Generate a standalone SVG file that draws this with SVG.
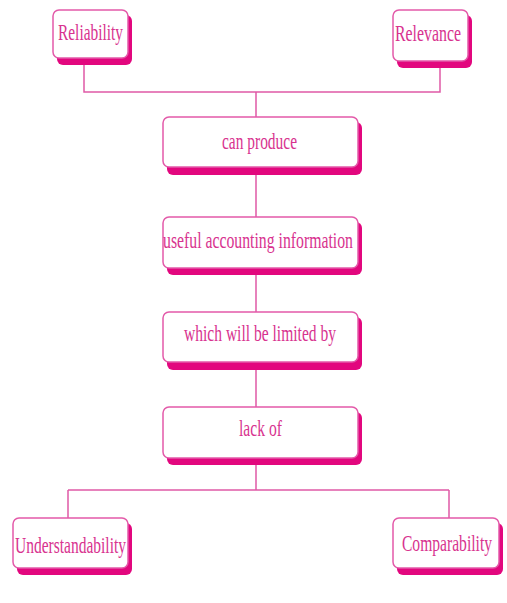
<svg xmlns="http://www.w3.org/2000/svg" width="507" height="603" viewBox="0 0 507 603">
<style>
.sh{fill:#e2077e}
.bx{fill:#ffffff;stroke:#e35aa9;stroke-width:1.5}
.t{font-family:"Liberation Serif","Times New Roman",serif;font-size:24px;fill:#d8338f;text-anchor:start}
.ln{stroke:#e05aa6;stroke-width:1.5;fill:none}
</style>
<rect width="507" height="603" fill="#ffffff"/>
<g id="connectors">
<path class="ln" d="M84 58V92H440V60M256 92V117M256 175V217M256 275V312M256 370V407M256 465V490M68 490H449M68 490V518M449 490V518"/>
</g>
<g id="reliability">
<rect class="sh" x="57" y="15" width="75" height="50" rx="6"/>
<rect class="bx" x="53" y="10" width="75" height="48" rx="6"/>
<text class="t" x="58" y="40" textLength="65" lengthAdjust="spacingAndGlyphs">Reliability</text>
</g>
<g id="relevance">
<rect class="sh" x="397" y="15" width="75" height="53" rx="6"/>
<rect class="bx" x="393" y="10" width="75" height="51" rx="6"/>
<text class="t" x="395" y="41" textLength="66" lengthAdjust="spacingAndGlyphs">Relevance</text>
</g>
<g id="can-produce">
<rect class="sh" x="167" y="122" width="195" height="53" rx="6"/>
<rect class="bx" x="163" y="117" width="195" height="50" rx="6"/>
<text class="t" x="222" y="149" textLength="75" lengthAdjust="spacingAndGlyphs">can produce</text>
</g>
<g id="useful-accounting-information">
<rect class="sh" x="167" y="222" width="195" height="53" rx="6"/>
<rect class="bx" x="163" y="217" width="195" height="51" rx="6"/>
<text class="t" x="163" y="248" textLength="190" lengthAdjust="spacingAndGlyphs">useful accounting information</text>
</g>
<g id="which-will-be-limited-by">
<rect class="sh" x="167" y="317" width="195" height="53" rx="6"/>
<rect class="bx" x="163" y="312" width="195" height="50" rx="6"/>
<text class="t" x="184" y="341" textLength="152" lengthAdjust="spacingAndGlyphs">which will be limited by</text>
</g>
<g id="lack-of">
<rect class="sh" x="167" y="412" width="195" height="53" rx="6"/>
<rect class="bx" x="163" y="407" width="195" height="51" rx="6"/>
<text class="t" x="239" y="436" textLength="43" lengthAdjust="spacingAndGlyphs">lack of</text>
</g>
<g id="understandability">
<rect class="sh" x="17" y="523" width="115" height="52" rx="6"/>
<rect class="bx" x="13" y="518" width="115" height="50" rx="6"/>
<text class="t" x="15" y="553" textLength="111" lengthAdjust="spacingAndGlyphs">Understandability</text>
</g>
<g id="comparability">
<rect class="sh" x="397" y="523" width="106" height="52" rx="6"/>
<rect class="bx" x="393" y="518" width="106" height="50" rx="6"/>
<text class="t" x="0" y="0" style="text-anchor:middle" transform="translate(447 551) scale(0.65 1)">Comparability</text>
</g>
</svg>
